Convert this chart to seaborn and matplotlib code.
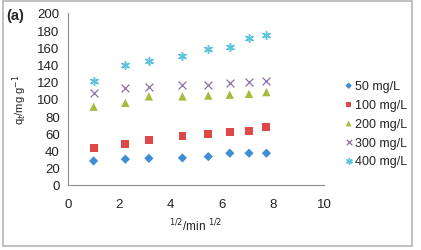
import numpy as np
import pandas as pd
import seaborn as sns
import matplotlib as mpl
mpl.use('Agg')
import matplotlib.pyplot as plt
from matplotlib.patches import Rectangle

# sqrt of sampling time (min^1/2)
t_sqrt = [1.0, 2.24, 3.16, 4.47, 5.48, 6.32, 7.07, 7.75]
q_50 = [28, 30, 31, 31.5, 33, 37, 37, 37]
q_100 = [43, 48, 52.5, 57, 59.5, 62, 62.5, 67]
q_200 = [91, 95.5, 103, 103, 104, 105, 106, 108]
q_300 = [107, 113, 114, 116, 116.5, 119, 120, 121]
q_400 = [121, 140, 144.5, 150, 158, 161, 171, 175]
labels = ['50 mg/L', '100 mg/L', '200 mg/L', '300 mg/L', '400 mg/L']

sns.set_style('white')
plt.rcParams['font.family'] = ['Liberation Sans', 'DejaVu Sans']

fig = plt.figure(figsize=(4.21, 2.51), dpi=100)
ax = fig.add_axes([68/421, 1-186/251, (324-68)/421, (186-14)/251])

styles = [
    dict(marker='D', color='#3d8ed6', s=22),
    dict(marker='s', color='#e04848', s=32),
    dict(marker='^', color='#a9ba3c', s=36),
    dict(marker='x', color='#8a72a8', s=32, linewidth=0.9),
    dict(marker=(6, 2, 0), color='#5ec3dc', s=32, linewidth=1.1),
]
for q, lab, st in zip([q_50, q_100, q_200, q_300, q_400], labels, styles):
    df = pd.DataFrame({'t': t_sqrt, 'q': q})
    kw = dict(st)
    if kw['marker'] in ('D', 's', '^'):
        kw['edgecolor'] = 'none'
    sns.scatterplot(data=df, x='t', y='q', ax=ax, label=lab, **kw)

ax.set_xlim(0, 10)
ax.set_ylim(0, 200)
ax.set_xticks(range(0, 11, 2))
ax.set_yticks(range(0, 201, 20))
for sp in ['top', 'right']:
    ax.spines[sp].set_visible(False)
for sp in ['left', 'bottom']:
    ax.spines[sp].set_color('#8c8c8c')
    ax.spines[sp].set_linewidth(0.8)
ax.tick_params(axis='both', direction='out', length=3, width=0.8,
               color='#8c8c8c', labelsize=9.5, labelcolor='#222222', pad=3)
ax.tick_params(axis='x', pad=6)

ax.set_xlabel('$^{1/2}$/min $^{1/2}$', fontsize=8.5, color='#222222', labelpad=5)
ax.set_ylabel('q$_t$/mg g$^{-1}$', fontsize=8, color='#222222', labelpad=6)

leg = ax.legend(loc='upper left', bbox_to_anchor=(338/421, 1-76/251),
                bbox_transform=fig.transFigure, frameon=False, fontsize=9,
                handletextpad=0.05, labelspacing=0.55, borderaxespad=0,
                handlelength=0.9, markerscale=0.7)

fig.text(6/421, 1-16/251, '(a)', fontsize=10.5, fontweight='bold', va='center')

fig.patches.append(Rectangle((3/421, 1-247/251), 409/421, 245/251,
                             transform=fig.transFigure, fill=False,
                             edgecolor='#b5b5b5', linewidth=1.2))

plt.savefig('out.png', dpi=100)
